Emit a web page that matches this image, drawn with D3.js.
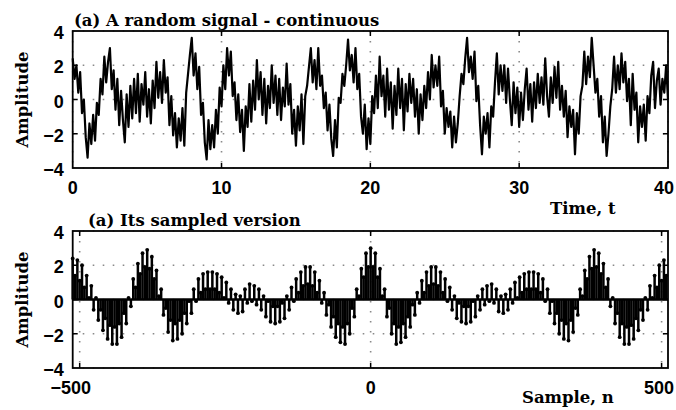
<!DOCTYPE html>
<html>
<head>
<meta charset="utf-8">
<script src="https://cdn.jsdelivr.net/npm/d3@7"></script>
<style>
body { margin: 0; background: #fff; }
svg { display: block; }
</style>
</head>
<body>
<svg width="676" height="410"></svg>
<script>
// continuous signal, one value every t_step seconds from t = 0 (4 values per half second)
const t_step = 0.125;
const signal = [
	2.4, 1.2, 2.0, 0.4,   1.6, -0.8, 0.0, -2.2,   -3.4, -1.4, -2.6, -0.9,   -2.4, -0.2, -0.9, 1.2,
	0.3, 2.5, 1.0, 2.2,   3.0, 0.6, 1.7, -0.6,   1.2, -1.5, 0.5, -1.2,   -2.5, 0.3, -1.6, 0.8,
	-1.1, 1.2, -0.8, 1.5,   -1.3, 0.9, -0.3, 1.6,   -1.0, 0.6, -1.4, 1.1,   -0.5, 2.2, 0.1, 1.6,
	-0.2, 2.3, 0.4, 1.3,   -1.5, 0.2, -2.1, -0.8,   -2.8, -1.1, -2.4, -0.5,   -2.7, 0.4, 1.5, 2.6,
	3.6, 1.4, 2.7, 0.6,   1.9, -0.9, -0.2, -2.5,   -3.5, -1.2, -2.9, -1.5,   -2.8, -0.6, -2.0, 0.7,
	-0.4, 2.0, 0.6, 3.0,   1.4, 2.8, 0.2, 1.0,   -1.2, 0.3, -1.9, -0.6,   -3.0, -0.4, -1.6, 0.9,
	-1.3, 1.1, -0.6, 2.3,   0.0, 1.6, -0.9, 1.2,   -1.4, 0.8, -0.5, 2.0,   -0.2, 1.4, -0.9, 1.2,
	-1.2, 0.7, -0.4, 2.1,   -0.3, 0.9, -2.0, -0.6,   -2.7, -0.4, -1.8, 0.3,   -2.6, 0.2, 0.8, 1.9,
	3.0, 1.0, 2.3, 0.6,   3.0, 0.8, 1.4, -0.5,   0.4, -1.8, -0.3, -2.3,   -3.3, -1.2, -2.8, 0.1,
	-0.2, 1.5, 0.8, 2.0,   3.5, 1.7, 2.6, 1.0,   3.0, 0.6, 1.5, -1.0,   -2.0, -0.3, -2.9, -1.1,
	-2.6, 0.2, -0.8, 1.4,   -0.5, 2.5, 0.2, 1.4,   -1.0, 1.8, -0.6, 1.0,   -1.7, 0.8, -0.9, 1.8,
	-0.5, 1.2, -1.8, 0.9,   -0.7, 1.5, -0.2, 1.2,   -1.0, 0.6, -2.0, 0.3,   -1.2, 0.8, -0.5, 1.6,
	0.0, 2.6, 0.7, 2.0,   0.8, 2.5, -0.4, 0.5,   -2.0, -0.5, -1.6, -0.7,   -2.8, -1.0, -2.5, -1.4,
	0.2, 1.5, 0.9, 2.4,   3.6, 1.6, 2.5, 1.2,   2.8, -0.1, 0.8, -1.5,   -3.2, -1.0, -2.0, -0.8,
	-2.8, -0.4, -1.0, 1.0,   2.7, 0.3, 2.0, 0.5,   2.0, -0.2, 1.8, 0.0,   -1.5, 1.0, -0.8, 0.7,
	-1.6, 0.4, -1.2, 0.6,   1.8, -0.6, 0.9, -1.3,   1.0, -0.5, 1.5, -0.2,   1.3, -0.3, 2.4, 0.2,
	-1.0, 1.3, -0.2, 1.9,   0.1, 2.2, -0.6, 0.8,   -1.0, 0.5, -2.2, -0.4,   -1.6, -0.6, -3.2, -0.8,
	-2.0, 0.2, 0.8, 2.8,   0.9, 2.5, 1.3, 3.6,   2.0, 0.4, 1.2, -1.0,   0.2, -2.5, -1.0, -3.3,
	-2.0, -0.4, 0.6, 2.5,   0.4, 2.0, 0.6, 2.7,   1.0, 2.2, -0.1, 1.2,   -1.5, 1.5, -0.6, 0.4,
	-2.5, -0.4, -1.6, -0.3,   -2.4, 0.2, -0.8, 1.4,   2.2, -0.5, 1.1, 1.8,   -0.3, 1.2, 0.4, 2.0,
	0.0
];

// sampled version, one stem every n_step samples from n_start
const n_start = -512;
const n_step = 4;
const samples = [
	2.4, 1.4, 2.3, 1.1, 2.0, 0.7, 1.4, 0.1, 0.8, -0.6, 0.1, -1.2, -0.6, -1.8, -1.1, -2.3,
	-1.5, -2.6, -1.6, -2.6, -1.4, -2.2, -0.8, -1.4, 0.1, -0.4, 1.2, 0.7, 2.1, 1.5, 2.7, 1.9,
	2.9, 1.8, 2.5, 1.2, 1.7, 0.2, 0.6, -0.9, -0.5, -1.9, -1.2, -2.4, -1.4, -2.3, -1.2, -2.0,
	-0.8, -1.4, -0.1, -0.8, 0.6, -0.1, 1.2, 0.4, 1.5, 0.6, 1.6, 0.6, 1.6, 0.6, 1.5, 0.4,
	1.3, 0.1, 1.0, -0.2, 0.6, -0.6, 0.3, -0.8, 0.2, -0.7, 0.6, -0.2, 0.9, -0.1, 0.8, -0.3,
	0.6, -0.6, 0.2, -1.0, -0.1, -1.3, -0.4, -1.4, -0.4, -1.3, -0.2, -1.1, 0.2, -0.6, 0.7, -0.1,
	1.2, 0.4, 1.6, 0.8, 1.9, 0.9, 1.9, 0.8, 1.6, 0.4, 1.1, -0.2, 0.4, -0.9, -0.3, -1.6,
	-1.0, -2.2, -1.4, -2.5, -1.6, -2.6, -1.4, -2.0, -0.5, -1.0, 0.6, 0.2, 1.8, 1.3, 2.7, 1.9,
	3.0, 1.9, 2.7, 1.3, 1.8, 0.2, 0.6, -1.0, -0.5, -2.0, -1.4, -2.6, -1.6, -2.5, -1.4, -2.2,
	-1.0, -1.6, -0.3, -0.9, 0.4, -0.2, 1.1, 0.4, 1.6, 0.8, 1.9, 0.9, 1.9, 0.8, 1.6, 0.4,
	1.2, -0.1, 0.7, -0.6, 0.2, -1.1, -0.2, -1.3, -0.4, -1.4, -0.4, -1.3, -0.1, -1.0, 0.2, -0.6,
	0.6, -0.3, 0.8, -0.1, 0.9, -0.2, 0.6, -0.7, 0.2, -0.8, 0.3, -0.6, 0.6, -0.2, 1.0, 0.1,
	1.3, 0.4, 1.5, 0.6, 1.6, 0.6, 1.6, 0.6, 1.5, 0.4, 1.2, -0.1, 0.6, -0.8, -0.1, -1.4,
	-0.8, -2.0, -1.2, -2.3, -1.4, -2.4, -1.2, -1.9, -0.5, -0.9, 0.6, 0.2, 1.7, 1.2, 2.5, 1.8,
	2.9, 1.9, 2.7, 1.5, 2.1, 0.7, 1.2, -0.4, 0.1, -1.4, -0.8, -2.2, -1.4, -2.6, -1.6, -2.6,
	-1.5, -2.3, -1.1, -1.8, -0.6, -1.2, 0.1, -0.6, 0.8, 0.1, 1.4, 0.7, 2.0, 1.1, 2.3, 1.4
];

const top_x_ticks = [0, 10, 20, 30, 40];
const bottom_x_ticks = [-500, 0, 500];
const y_ticks = [-4, -2, 0, 2, 4];

const width = 676;
const left = 72.7, right = 668;
const svg = d3.select("svg");
const serif = "DejaVu Serif";
const sans = "Liberation Sans";

function panel(top, bottom, x, x_ticks) {
	const y = d3.scaleLinear().domain([-4, 4]).range([bottom, top]);
	const g = svg.append("g");

	// dotted grid
	g.append("g").selectAll("line")
		.data(x_ticks)
		.join("line")
		.attr("x1", d => x(d)).attr("x2", d => x(d))
		.attr("y1", top).attr("y2", bottom)
		.attr("stroke", "#8a8a8a")
		.attr("stroke-width", 1.6)
		.attr("stroke-dasharray", "1.6 8.4");
	g.append("g").selectAll("line")
		.data(y_ticks)
		.join("line")
		.attr("x1", left).attr("x2", right)
		.attr("y1", d => y(d)).attr("y2", d => y(d))
		.attr("stroke", "#8a8a8a")
		.attr("stroke-width", 1.6)
		.attr("stroke-dasharray", "1.6 8.4");

	const data_g = g.append("g");

	// frame
	g.append("rect")
		.attr("x", left).attr("y", top)
		.attr("width", right - left).attr("height", bottom - top)
		.attr("fill", "none")
		.attr("stroke", "#000")
		.attr("stroke-width", 1.8);

	// inward ticks on every side
	const xt = x_ticks.filter(d => x(d) > left + 1 && x(d) < right - 1);
	for (const [y0, dir] of [[bottom, -1], [top, 1]]) {
		g.append("g").selectAll("line")
			.data(xt)
			.join("line")
			.attr("x1", d => x(d)).attr("x2", d => x(d))
			.attr("y1", y0).attr("y2", y0 + dir * 5)
			.attr("stroke", "#000").attr("stroke-width", 1.5);
	}
	const yt = y_ticks.filter(d => d > -4 && d < 4);
	for (const [x0, dir] of [[left, 1], [right, -1]]) {
		g.append("g").selectAll("line")
			.data(yt)
			.join("line")
			.attr("x1", x0).attr("x2", x0 + dir * 5)
			.attr("y1", d => y(d)).attr("y2", d => y(d))
			.attr("stroke", "#000").attr("stroke-width", 1.5);
	}

	// tick labels
	g.append("g")
		.attr("font-family", sans)
		.attr("font-weight", "bold")
		.attr("font-size", 18)
		.attr("text-anchor", "end")
		.selectAll("text")
		.data(y_ticks)
		.join("text")
		.attr("x", left - 9)
		.attr("y", d => y(d) + 8)
		.text(d => d3.format("d")(d));
	g.append("g")
		.attr("font-family", sans)
		.attr("font-weight", "bold")
		.attr("font-size", 18)
		.attr("text-anchor", "middle")
		.selectAll("text")
		.data(x_ticks)
		.join("text")
		.attr("x", d => x(d))
		.attr("dx", d => d < 0 ? "-0.5em" : null)
		.attr("y", bottom + 26)
		.text(d => d3.format("d")(d))
		.each(function () {
			// keep the last label inside the window
			const b = this.getBBox();
			if (b.x + b.width > width - 2)
				d3.select(this).attr("x", width - 2 - b.width / 2);
		});

	g.append("text")
		.attr("transform", `translate(28,${(top + bottom) / 2}) rotate(-90)`)
		.attr("text-anchor", "middle")
		.attr("font-family", serif)
		.attr("font-weight", "bold")
		.attr("font-size", 16.5)
		.text("Amplitude");

	return { g: data_g, y };
}

// top panel: continuous signal
const x1 = d3.scaleLinear().domain([0, 40]).range([left, right]);
const p1 = panel(31, 168, x1, top_x_ticks);
p1.g.append("path")
	.datum(signal)
	.attr("fill", "none")
	.attr("stroke", "#000")
	.attr("stroke-width", 2.2)
	.attr("stroke-linejoin", "round")
	.attr("d", d3.line()
		.x((d, i) => x1(i * t_step))
		.y(d => p1.y(d)));

// bottom panel: stems
const x2 = d3.scaleLinear().domain([-512, 511]).range([left, right]);
const p2 = panel(231, 368, x2, bottom_x_ticks);
const stems = samples.map((v, i) => ({ n: n_start + i * n_step, v }));
p2.g.append("g").selectAll("line")
	.data(stems)
	.join("line")
	.attr("x1", d => x2(d.n)).attr("x2", d => x2(d.n))
	.attr("y1", p2.y(0)).attr("y2", d => p2.y(d.v))
	.attr("stroke", "#000")
	.attr("stroke-width", 2.5);
p2.g.append("line")
	.attr("x1", left).attr("x2", right)
	.attr("y1", p2.y(0)).attr("y2", p2.y(0))
	.attr("stroke", "#000")
	.attr("stroke-width", 2.6);
p2.g.append("g").selectAll("circle")
	.data(stems)
	.join("circle")
	.attr("cx", d => x2(d.n))
	.attr("cy", d => p2.y(d.v))
	.attr("r", 1.9)
	.attr("fill", "#000");

// titles and axis names
const labels = svg.append("g")
	.attr("font-family", serif)
	.attr("font-weight", "bold")
	.attr("font-size", 16.5);
labels.append("text").attr("x", 74).attr("y", 26).text("(a) A random signal - continuous");
labels.append("text").attr("x", 88).attr("y", 226).text("(a) Its sampled version");
labels.append("text").attr("x", 550).attr("y", 214).text("Time, t");
labels.append("text").attr("x", 522).attr("y", 403).text("Sample, n");
</script>
</body>
</html>
